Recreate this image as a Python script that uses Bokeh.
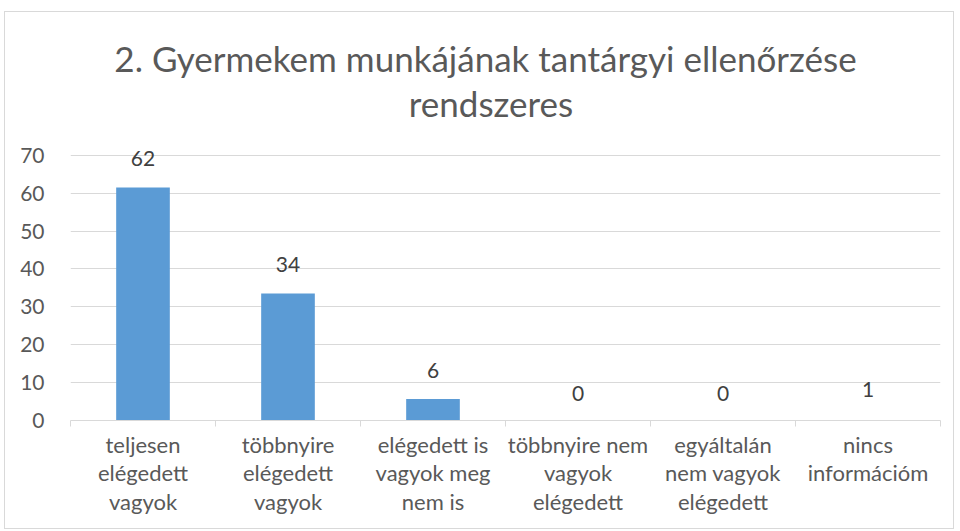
from bokeh.plotting import figure
from bokeh.models import Range1d, FixedTicker, ColumnDataSource
from bokeh.core.properties import value
from bokeh.embed import file_html
from bokeh.resources import INLINE

title_lines = ["2. Gyermekem munkájának tantárgyi ellenőrzése", "rendszeres"]
categories = [
    "teljesen\nelégedett\nvagyok",
    "többnyire\nelégedett\nvagyok",
    "elégedett is\nvagyok meg\nnem is",
    "többnyire nem\nvagyok\nelégedett",
    "egyáltalán\nnem vagyok\nelégedett",
    "nincs\ninformációm",
]
bar_values = [61.5, 33.5, 5.7, 0, 0, 0]
label_values = [62, 34, 6, 0, 0, 1]
y_ticks = [0, 10, 20, 30, 40, 50, 60, 70]

FONT = "Lato"
xs = [i + 0.5 for i in range(len(categories))]
src = ColumnDataSource(dict(x=xs, top=bar_values, ly=label_values,
                            txt=[str(v) for v in label_values]))

# frame: 870 x 408 px, 3.788 px per y unit -> top of canvas at ~107.7
p = figure(width=950, height=518, output_backend="svg", toolbar_location=None,
           x_range=Range1d(0, len(categories)), y_range=Range1d(0, 107.7),
           min_border_left=65, min_border_right=15, min_border_top=0,
           min_border_bottom=110)
p.styles = {"border": "1px solid #d9d9d9", "margin-left": "4px", "margin-top": "11px"}
p.outline_line_color = None
p.background_fill_color = "white"
p.border_fill_color = "white"

# title (placed in the empty upper part of the frame)
title_src = ColumnDataSource(dict(x=[2.862, 2.90], y=[95.6, 83.8], t=title_lines))
p.text(x="x", y="y", text="t", source=title_src, text_align="center",
       text_baseline="middle", text_font=value(FONT), text_font_size="35px",
       text_color="#595959")

p.vbar(x="x", top="top", width=0.37, source=src, fill_color="#5B9BD5",
       line_color=None)
p.text(x="x", y="ly", text="txt", source=src, text_align="center",
       text_baseline="middle", y_offset=-27, text_font=value(FONT),
       text_font_size="21px", text_color="#404040")

# y axis
p.yaxis.ticker = FixedTicker(ticks=y_ticks)
p.yaxis.axis_line_color = None
p.yaxis.major_tick_line_color = None
p.yaxis.minor_tick_line_color = None
p.yaxis.major_label_text_font = FONT
p.yaxis.major_label_text_font_size = "21px"
p.yaxis.major_label_text_color = "#595959"
p.yaxis.major_label_standoff = 20
p.ygrid.ticker = FixedTicker(ticks=y_ticks)
p.ygrid.grid_line_color = "#d9d9d9"
p.ygrid.grid_line_width = 1

# x axis
p.xaxis.ticker = FixedTicker(ticks=xs, minor_ticks=list(range(len(categories) + 1)))
p.xaxis.major_label_overrides = {x: c for x, c in zip(xs, categories)}
p.xaxis.axis_line_color = "#d9d9d9"
p.xaxis.major_tick_line_color = None
p.xaxis.minor_tick_line_color = "#d9d9d9"
p.xaxis.minor_tick_in = 0
p.xaxis.minor_tick_out = 6
p.xaxis.major_label_text_font = FONT
p.xaxis.major_label_text_font_size = "22px"
p.xaxis.major_label_text_color = "#595959"
p.xaxis.major_label_text_line_height = 1.07
p.xaxis.major_label_standoff = 4
p.xgrid.grid_line_color = None

open("out.html", "w").write(file_html(p, INLINE))
